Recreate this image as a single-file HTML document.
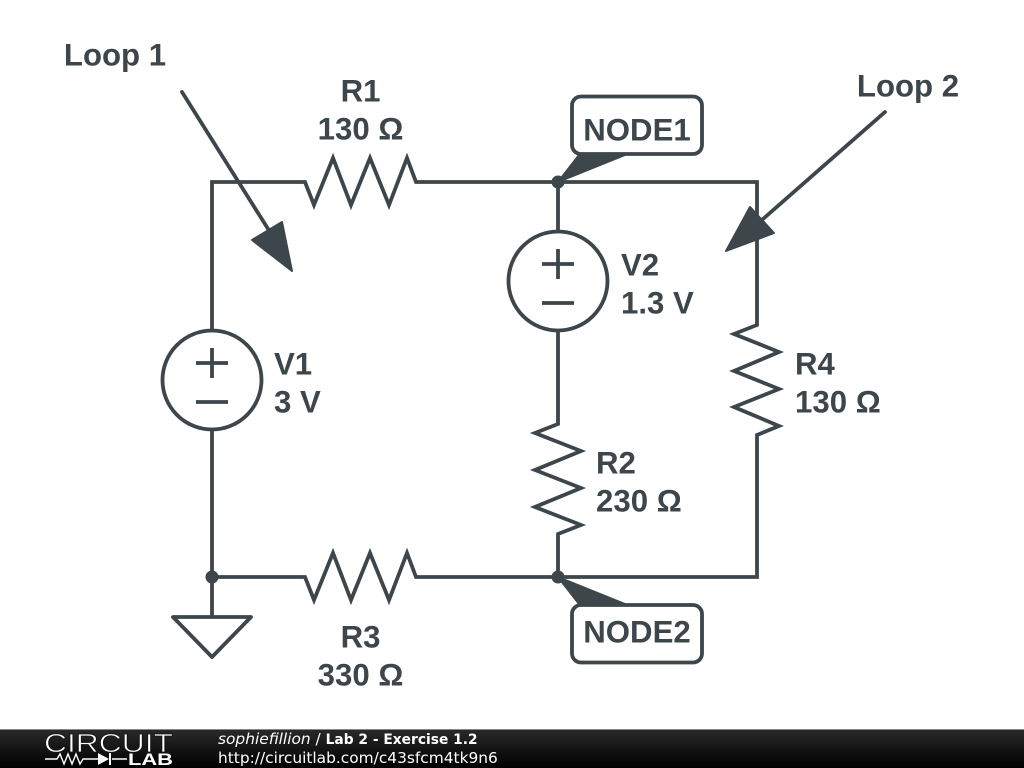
<!DOCTYPE html>
<html><head><meta charset="utf-8"><title>Lab 2 - Exercise 1.2</title>
<style>
html,body{margin:0;padding:0;background:#fff}
svg{display:block}
.l{font-family:"Liberation Sans",sans-serif;font-weight:700;font-size:31.2px;fill:#3d464b}
.f{font-family:"DejaVu Sans",sans-serif;font-size:15.4px;fill:#fff}
</style></head><body>
<svg width="1024" height="768" viewBox="0 0 1024 768" xmlns="http://www.w3.org/2000/svg">
<defs>
<linearGradient id="g" x1="0" y1="0" x2="0" y2="1"><stop offset="0" stop-color="#2a2a2a"/><stop offset="1" stop-color="#000"/></linearGradient>
</defs>
<rect width="1024" height="768" fill="#fff"/>
<g fill="none" stroke="#3d464b" stroke-width="3.8" stroke-linejoin="miter">
<path d="M212 330V182H305L314 205L333 158L351 205L370 158L389 205L407 158L416 182H757V325L734 334L779 352L734 371L779 389L734 407L779 426L757 435V577H416L407 553L389 600L370 553L351 600L333 553L314 600L305 577H212V430"/>
<path d="M558 182V231M558 330V424L535 433L581 451L535 470L581 488L535 507L581 525L558 534V577"/>
<circle cx="212" cy="380" r="49.5"/>
<circle cx="558" cy="281" r="49.5"/>
<path d="M212 348V378M196 363H228M196 402H228"/>
<path d="M558 249V279M542 264H574M542 303H574"/>
<path d="M212 577V617" />
<path d="M173 617H251L212 657Z" stroke-linejoin="round"/>
<rect x="572" y="96.5" width="130" height="57.5" rx="9" fill="#fff"/>
<rect x="572" y="605" width="130" height="57.5" rx="9" fill="#fff"/>
<path stroke-linecap="round" d="M182 92L275 240"/>
<path stroke-linecap="round" d="M885 112L755 226"/>
</g>
<g fill="#3d464b" stroke="#3d464b" stroke-width="2" stroke-linejoin="round">
<path d="M558 182L579 155H625Z"/>
<path d="M558 577L579 604H625Z"/>
<path d="M252 240L282 222L292 271Z"/>
<path d="M726 251L750 207L774 233Z"/>
</g>
<circle cx="558" cy="182" r="6.5" fill="#3d464b"/>
<circle cx="558" cy="577" r="6.5" fill="#3d464b"/>
<circle cx="212" cy="577" r="6.5" fill="#3d464b"/>
<g class="l" transform="translate(0 0.7)">
<text class="l" x="115" y="65" text-anchor="middle">Loop 1</text>
<text class="l" x="908" y="96" text-anchor="middle">Loop 2</text>
<text class="l" x="360.500" y="101" text-anchor="middle">R1</text>
<text class="l" x="360.500" y="139" text-anchor="middle">130 Ω</text>
<text class="l" x="637" y="140" text-anchor="middle">NODE1</text>
<text class="l" x="637" y="642" text-anchor="middle">NODE2</text>
<text class="l" x="621" y="275">V2</text>
<text class="l" x="621" y="313">1.3 V</text>
<text class="l" x="274" y="374">V1</text>
<text class="l" x="274" y="412">3 V</text>
<text class="l" x="795" y="374">R4</text>
<text class="l" x="795" y="412">130 Ω</text>
<text class="l" x="596" y="473">R2</text>
<text class="l" x="596" y="511">230 Ω</text>
<text class="l" x="360.500" y="647" text-anchor="middle">R3</text>
<text class="l" x="360.500" y="685" text-anchor="middle">330 Ω</text>
</g>
<rect y="729" width="1024" height="39" fill="url(#g)"/>
<rect y="729" width="1024" height="1" fill="#888"/>
<text x="44" y="752" font-family="Liberation Sans,sans-serif" font-size="26" fill="#fff" stroke="#111" stroke-width=".7" textLength="129" lengthAdjust="spacingAndGlyphs">CIRCUIT</text>
<text x="128" y="765" font-family="Liberation Sans,sans-serif" font-size="17" font-weight="700" fill="#fff" textLength="45" lengthAdjust="spacingAndGlyphs">LAB</text>
<path d="M45 759H57L60 754L64 764L68 754L72 764L76 754L80 764L83 759H98M112 759H127" fill="none" stroke="#fff" stroke-width="1.4"/>
<path d="M98 753L109 759L98 765Z" fill="#fff"/>
<rect x="109" y="753" width="2" height="12" fill="#fff"/>
<text class="f" x="218" y="744"><tspan font-style="italic">sophiefillion</tspan> / <tspan font-weight="700" font-size="13.8">Lab 2 - Exercise 1.2</tspan></text>
<text class="f" x="218" y="763">http://circuitlab.com/c43sfcm4tk9n6</text>
</svg>
</body></html>
